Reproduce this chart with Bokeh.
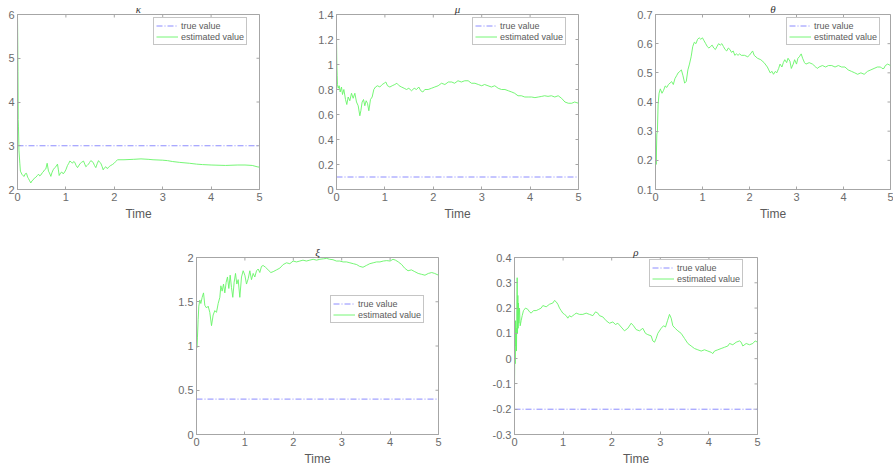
import math
from bokeh.plotting import figure
from bokeh.layouts import column, row
from bokeh.models import (FixedTicker, CustomJSTickFormatter, Range1d,
                          Legend, LegendItem, Spacer)
from bokeh.embed import file_html
from bokeh.resources import INLINE

# ---------------- data ----------------
TIME_SPAN = [0, 5]
TIME_TICKS = [0, 1, 2, 3, 4, 5]
LEGEND_LABELS = ["true value", "estimated value"]

KAPPA_TRUE = 3.0
KAPPA_TICKS = [2, 3, 4, 5, 6]
KAPPA_T = [0, 0.005, 0.01, 0.015, 0.02, 0.03, 0.048, 0.06, 0.09, 0.11,
           0.138, 0.16, 0.186, 0.21, 0.227, 0.25, 0.275, 0.30, 0.324, 0.35,
           0.379, 0.41, 0.434, 0.46, 0.482, 0.51, 0.53, 0.56, 0.585, 0.613,
           0.64, 0.66, 0.689, 0.71, 0.737, 0.77, 0.792, 0.826, 0.845, 0.861,
           0.89, 0.916, 0.94, 0.964, 0.999, 1.033, 1.06, 1.081, 1.11, 1.136,
           1.16, 1.185, 1.21, 1.24, 1.274, 1.30, 1.322, 1.364, 1.39, 1.412,
           1.44, 1.467, 1.49, 1.515, 1.54, 1.563, 1.59, 1.618, 1.65, 1.674,
           1.70, 1.722, 1.75, 1.77, 1.80, 1.825, 1.85, 1.88, 1.90, 1.928,
           1.96, 1.997, 2.03, 2.066, 2.2, 2.4, 2.55, 2.7, 2.8, 3.0,
           3.1, 3.2, 3.35, 3.55, 3.7, 3.82, 4.0, 4.3, 4.55, 4.7,
           4.85, 4.95, 5.0]
KAPPA_EST = [6.0, 5.4, 4.7, 3.6, 3.45, 2.9, 2.6, 2.42, 2.35, 2.32,
             2.30, 2.36, 2.37, 2.28, 2.25, 2.20, 2.15, 2.20, 2.22, 2.26,
             2.28, 2.32, 2.35, 2.31, 2.33, 2.38, 2.40, 2.45, 2.47, 2.60,
             2.42, 2.38, 2.30, 2.38, 2.45, 2.50, 2.52, 2.58, 2.45, 2.32,
             2.38, 2.40, 2.36, 2.38, 2.45, 2.55, 2.60, 2.65, 2.63, 2.60,
             2.64, 2.62, 2.55, 2.50, 2.56, 2.60, 2.62, 2.65, 2.58, 2.52,
             2.55, 2.58, 2.62, 2.66, 2.64, 2.62, 2.55, 2.50, 2.60, 2.66,
             2.62, 2.60, 2.52, 2.45, 2.50, 2.52, 2.48, 2.50, 2.53, 2.55,
             2.57, 2.60, 2.64, 2.68, 2.68, 2.69, 2.70, 2.69, 2.68, 2.67,
             2.66, 2.64, 2.62, 2.60, 2.58, 2.57, 2.56, 2.55, 2.56, 2.56,
             2.55, 2.52, 2.51]

MU_TRUE = 0.1
MU_TICKS = [0, 0.2, 0.4, 0.6, 0.8, 1.0, 1.2, 1.4]
MU_T = [0, 0.007, 0.014, 0.02, 0.034, 0.055, 0.076, 0.103, 0.124, 0.152,
        0.186, 0.213, 0.241, 0.275, 0.31, 0.344, 0.379, 0.413, 0.448, 0.482,
        0.503, 0.53, 0.558, 0.585, 0.613, 0.64, 0.668, 0.702, 0.737, 0.771,
        0.806, 0.847, 0.895, 0.944, 0.985, 1.019, 1.054, 1.102, 1.15, 1.205,
        1.247, 1.295, 1.343, 1.398, 1.446, 1.494, 1.55, 1.605, 1.653, 1.70,
        1.742, 1.784, 1.825, 1.894, 1.963, 2.03, 2.10, 2.17, 2.24, 2.31,
        2.38, 2.44, 2.51, 2.58, 2.65, 2.72, 2.79, 2.86, 2.93, 3.0,
        3.06, 3.13, 3.2, 3.27, 3.34, 3.41, 3.48, 3.55, 3.62, 3.68,
        3.75, 3.82, 3.89, 3.96, 4.03, 4.1, 4.17, 4.24, 4.3, 4.37,
        4.44, 4.51, 4.58, 4.65, 4.72, 4.79, 4.86, 4.92, 5.0]
MU_EST = [1.22, 1.0, 0.91, 0.84, 0.81, 0.83, 0.78, 0.82, 0.76, 0.80,
          0.72, 0.68, 0.74, 0.71, 0.77, 0.73, 0.77, 0.70, 0.67, 0.59,
          0.63, 0.70, 0.72, 0.67, 0.71, 0.69, 0.63, 0.72, 0.74, 0.80,
          0.82, 0.83, 0.82, 0.84, 0.85, 0.86, 0.83, 0.82, 0.83, 0.84,
          0.85, 0.83, 0.82, 0.81, 0.80, 0.81, 0.79, 0.81, 0.80, 0.82,
          0.79, 0.78, 0.80, 0.80, 0.81, 0.82, 0.83, 0.85, 0.84, 0.86,
          0.86, 0.85, 0.87, 0.86, 0.87, 0.87, 0.85, 0.85, 0.84, 0.83,
          0.84, 0.83, 0.82, 0.83, 0.81, 0.80, 0.80, 0.79, 0.78, 0.77,
          0.75, 0.75, 0.74, 0.74, 0.74, 0.735, 0.74, 0.745, 0.75, 0.745,
          0.75, 0.74, 0.75, 0.73, 0.70, 0.69, 0.69, 0.70, 0.69]

THETA_TRUE = 0.1
THETA_TICKS = [0.1, 0.2, 0.3, 0.4, 0.5, 0.6, 0.7]
THETA_T = [0, 0.014, 0.028, 0.041, 0.055, 0.076, 0.103, 0.138, 0.172, 0.207,
           0.241, 0.275, 0.31, 0.344, 0.379, 0.413, 0.448, 0.482, 0.517, 0.551,
           0.585, 0.62, 0.654, 0.689, 0.723, 0.758, 0.792, 0.826, 0.861, 0.895,
           0.93, 0.964, 0.999, 1.033, 1.068, 1.102, 1.136, 1.171, 1.205, 1.24,
           1.274, 1.308, 1.343, 1.377, 1.412, 1.446, 1.481, 1.515, 1.55, 1.584,
           1.618, 1.653, 1.687, 1.722, 1.756, 1.79, 1.825, 1.894, 1.963, 1.997,
           2.066, 2.1, 2.17, 2.24, 2.31, 2.38, 2.41, 2.44, 2.48, 2.51,
           2.55, 2.58, 2.62, 2.65, 2.69, 2.72, 2.75, 2.79, 2.82, 2.86,
           2.89, 2.93, 2.96, 3.0, 3.03, 3.06, 3.1, 3.13, 3.17, 3.2,
           3.27, 3.34, 3.41, 3.44, 3.48, 3.55, 3.62, 3.68, 3.75, 3.82,
           3.89, 3.96, 4.03, 4.1, 4.17, 4.24, 4.3, 4.37, 4.44, 4.51,
           4.58, 4.65, 4.72, 4.79, 4.82, 4.86, 4.89, 4.94, 5.0]
THETA_EST = [0.26, 0.186, 0.29, 0.30, 0.39, 0.43, 0.445, 0.43, 0.44, 0.455,
             0.45, 0.46, 0.465, 0.47, 0.46, 0.48, 0.49, 0.50, 0.505, 0.51,
             0.49, 0.465, 0.47, 0.51, 0.53, 0.555, 0.59, 0.605, 0.60, 0.615,
             0.62, 0.615, 0.62, 0.61, 0.60, 0.59, 0.585, 0.59, 0.595, 0.585,
             0.58, 0.59, 0.60, 0.595, 0.60, 0.59, 0.58, 0.575, 0.585, 0.58,
             0.57, 0.575, 0.56, 0.565, 0.56, 0.565, 0.56, 0.56, 0.555, 0.56,
             0.575, 0.56, 0.55, 0.545, 0.535, 0.52, 0.51, 0.50, 0.505, 0.495,
             0.505, 0.50, 0.515, 0.53, 0.52, 0.535, 0.545, 0.535, 0.55, 0.54,
             0.515, 0.53, 0.545, 0.53, 0.55, 0.555, 0.565, 0.55, 0.535, 0.53,
             0.535, 0.53, 0.52, 0.515, 0.52, 0.525, 0.52, 0.525, 0.525, 0.52,
             0.525, 0.52, 0.52, 0.51, 0.505, 0.50, 0.495, 0.50, 0.495, 0.505,
             0.51, 0.515, 0.52, 0.52, 0.515, 0.515, 0.525, 0.53, 0.525]

XI_TRUE = 0.4
XI_TICKS = [0, 0.5, 1.0, 1.5, 2.0]
XI_T = [0, 0.007, 0.02, 0.034, 0.048, 0.069, 0.09, 0.117, 0.145, 0.172,
        0.207, 0.241, 0.275, 0.31, 0.344, 0.379, 0.413, 0.448, 0.482, 0.503,
        0.53, 0.558, 0.585, 0.613, 0.64, 0.668, 0.696, 0.723, 0.75, 0.778,
        0.806, 0.833, 0.861, 0.895, 0.93, 0.964, 0.999, 1.033, 1.068, 1.102,
        1.136, 1.171, 1.205, 1.24, 1.274, 1.308, 1.343, 1.377, 1.425, 1.48,
        1.536, 1.584, 1.653, 1.722, 1.79, 1.86, 1.928, 1.997, 2.066, 2.135,
        2.2, 2.27, 2.34, 2.41, 2.48, 2.55, 2.62, 2.69, 2.75, 2.82,
        2.89, 2.96, 3.03, 3.1, 3.17, 3.24, 3.31, 3.37, 3.44, 3.51,
        3.58, 3.65, 3.72, 3.79, 3.86, 3.93, 4.0, 4.06, 4.11, 4.17,
        4.24, 4.3, 4.37, 4.44, 4.51, 4.58, 4.65, 4.72, 4.79, 4.86,
        4.92, 5.0]
XI_EST = [1.25, 0.98, 1.1, 1.3, 1.45, 1.52, 1.48, 1.55, 1.60, 1.46,
          1.43, 1.45, 1.38, 1.23, 1.35, 1.40, 1.38, 1.48, 1.55, 1.68,
          1.62, 1.70, 1.60, 1.72, 1.78, 1.65, 1.80, 1.66, 1.55, 1.72,
          1.82, 1.70, 1.75, 1.55, 1.78, 1.85, 1.80, 1.70, 1.76, 1.85,
          1.75, 1.82, 1.78, 1.85, 1.87, 1.83, 1.90, 1.91, 1.89, 1.86,
          1.83, 1.84, 1.86, 1.88, 1.92, 1.94, 1.93, 1.96, 1.95, 1.96,
          1.97, 1.96, 1.97, 1.98, 1.97, 1.98, 1.985, 1.99, 1.98, 1.975,
          1.96, 1.96, 1.95, 1.95, 1.94, 1.93, 1.92, 1.90, 1.89, 1.91,
          1.93, 1.94, 1.95, 1.95, 1.96, 1.965, 1.96, 1.98, 1.97, 1.95,
          1.92, 1.88, 1.85, 1.86, 1.84, 1.82, 1.81, 1.80, 1.82, 1.83,
          1.82, 1.80]

RHO_TRUE = -0.2
RHO_TICKS = [-0.3, -0.2, -0.1, 0, 0.1, 0.2, 0.3, 0.4]
RHO_T = [0, 0.007, 0.014, 0.021, 0.027, 0.034, 0.041, 0.048, 0.055, 0.062,
         0.069, 0.075, 0.082, 0.089, 0.103, 0.117, 0.137, 0.158, 0.185, 0.226,
         0.274, 0.309, 0.343, 0.391, 0.446, 0.5, 0.549, 0.583, 0.652, 0.72,
         0.789, 0.823, 0.857, 0.892, 0.926, 0.96, 0.994, 1.029, 1.063, 1.097,
         1.132, 1.166, 1.2, 1.235, 1.269, 1.337, 1.406, 1.475, 1.543, 1.612,
         1.667, 1.715, 1.749, 1.818, 1.886, 1.955, 2.023, 2.078, 2.126, 2.195,
         2.263, 2.332, 2.401, 2.449, 2.503, 2.572, 2.64, 2.695, 2.743, 2.812,
         2.846, 2.881, 2.915, 2.949, 3.018, 3.066, 3.107, 3.148, 3.189, 3.224,
         3.258, 3.306, 3.361, 3.429, 3.498, 3.567, 3.635, 3.704, 3.772, 3.841,
         3.909, 3.978, 4.047, 4.081, 4.115, 4.184, 4.252, 4.321, 4.39, 4.424,
         4.492, 4.561, 4.63, 4.664, 4.698, 4.767, 4.835, 4.904, 4.952, 5.0]
RHO_EST = [-0.11, 0.05, -0.02, 0.15, 0.05, 0.12, 0.03, 0.20, 0.32, 0.10,
           0.25, 0.12, 0.22, 0.14, 0.20, 0.13, 0.15, 0.17, 0.19, 0.20,
           0.195, 0.185, 0.18, 0.19, 0.19, 0.195, 0.20, 0.21, 0.205, 0.215,
           0.22, 0.23, 0.225, 0.215, 0.20, 0.19, 0.18, 0.175, 0.17, 0.16,
           0.17, 0.165, 0.17, 0.175, 0.18, 0.175, 0.175, 0.18, 0.175, 0.17,
           0.185, 0.18, 0.17, 0.165, 0.15, 0.14, 0.145, 0.135, 0.14, 0.125,
           0.11, 0.12, 0.14, 0.13, 0.115, 0.11, 0.12, 0.10, 0.095, 0.09,
           0.07, 0.065, 0.08, 0.10, 0.12, 0.13, 0.125, 0.15, 0.175, 0.16,
           0.13, 0.12, 0.11, 0.10, 0.08, 0.06, 0.05, 0.04, 0.035, 0.03,
           0.035, 0.03, 0.025, 0.02, 0.03, 0.035, 0.04, 0.045, 0.05, 0.06,
           0.055, 0.065, 0.07, 0.065, 0.05, 0.06, 0.055, 0.06, 0.07, 0.065]

# ---------------- styling ----------------
FONT = "Liberation Sans"
TICK_COLOR = "#6b6b6b"
BOX_COLOR = "#a6a6a6"
TRUE_COLOR = "#8c8cff"
EST_COLOR = "#66f566"

fmt_code = "return String(Number(tick.toFixed(2)))"


def make_panel(title, t, est, true_val, y_lo, y_hi, y_ticks, fw, fh,
               mb_left, mb_right, mb_top, legend_pos):
    p = figure(frame_width=fw, frame_height=fh,
               x_range=Range1d(TIME_SPAN[0], TIME_SPAN[1]),
               y_range=Range1d(y_lo, y_hi),
               output_backend="svg", toolbar_location=None,
               min_border=0, min_border_left=mb_left, min_border_right=mb_right,
               min_border_top=mb_top, min_border_bottom=0,
               background_fill_color="white", border_fill_color="white")
    p.title.text = title
    p.title.align = "center"
    p.title.text_font = "Liberation Serif"
    p.title.text_font_style = "italic"
    p.title.text_font_size = "11px"
    p.title.text_color = "#333333"
    p.title.standoff = 0
    p.grid.visible = False
    p.outline_line_color = BOX_COLOR
    p.outline_line_width = 1

    p.xaxis.ticker = FixedTicker(ticks=TIME_TICKS)
    p.yaxis.ticker = FixedTicker(ticks=y_ticks)
    p.yaxis.formatter = CustomJSTickFormatter(code=fmt_code)
    p.xaxis.formatter = CustomJSTickFormatter(code=fmt_code)
    p.xaxis.axis_label = "Time"
    p.xaxis.axis_label_text_font = FONT
    p.xaxis.axis_label_text_font_style = "normal"
    p.xaxis.axis_label_text_font_size = "12px"
    p.xaxis.axis_label_text_color = "#5a5a5a"
    p.xaxis.axis_label_standoff = 3
    for ax in (p.xaxis, p.yaxis):
        ax.axis_line_color = BOX_COLOR
        ax.major_tick_line_color = BOX_COLOR
        ax.major_tick_in = 3
        ax.major_tick_out = 0
        ax.minor_tick_line_color = None
        ax.major_label_text_font = FONT
        ax.major_label_text_font_size = "11px"
        ax.major_label_text_color = TICK_COLOR
        ax.major_label_standoff = 3

    # inward tick marks on the top and right sides of the box (half of each
    # dash is clipped away by the frame)
    p.scatter(x=TIME_TICKS, y=[y_hi] * len(TIME_TICKS), marker="dash", size=6,
              angle=math.pi / 2, line_color=BOX_COLOR, line_width=1)
    p.scatter(x=[TIME_SPAN[1]] * len(y_ticks), y=y_ticks, marker="dash", size=6,
              line_color=BOX_COLOR, line_width=1)

    r_true = p.line(x=TIME_SPAN, y=[true_val, true_val], line_color=TRUE_COLOR,
                    line_width=1, line_dash="6 2 1 2")
    r_est = p.line(x=t, y=est, line_color=EST_COLOR, line_width=0.9)

    legend = Legend(items=[LegendItem(label=LEGEND_LABELS[0], renderers=[r_true]),
                           LegendItem(label=LEGEND_LABELS[1], renderers=[r_est])],
                    location=legend_pos, margin=0, padding=2, spacing=0,
                    label_standoff=3, glyph_width=22, glyph_height=11,
                    label_height=11, label_text_font=FONT,
                    label_text_font_size="9px", label_text_color="#5a5a5a",
                    border_line_color="#8c8c8c", border_line_width=1,
                    background_fill_color="white", background_fill_alpha=1.0)
    p.add_layout(legend)
    return p


TOP_H = 175
BOT_H = 177

f1 = make_panel("κ", KAPPA_T, KAPPA_EST, KAPPA_TRUE, 2, 6, KAPPA_TICKS,
                242, TOP_H, 17, 5, 0, (136, TOP_H - 31))
f2 = make_panel("μ", MU_T, MU_EST, MU_TRUE, 0, 1.4, MU_TICKS,
                242, TOP_H, 72, 5, 0, (136, TOP_H - 31))
f3 = make_panel("θ", THETA_T, THETA_EST, THETA_TRUE, 0.1, 0.7, THETA_TICKS,
                235, TOP_H, 72, 3, 0, (131, TOP_H - 31))
f4 = make_panel("ξ", XI_T, XI_EST, XI_TRUE, 0, 2, XI_TICKS,
                242, BOT_H, 32, 5, 34, (134, BOT_H - 66))
f5 = make_panel("ρ", RHO_T, RHO_EST, RHO_TRUE, -0.3, 0.4, RHO_TICKS,
                243, BOT_H, 71, 10, 34, (135, BOT_H - 30))

layout = column(row(f1, f2, f3), row(Spacer(width=164, height=10), f4, f5))

open("out.html", "w").write(file_html(layout, INLINE, "chart"))
